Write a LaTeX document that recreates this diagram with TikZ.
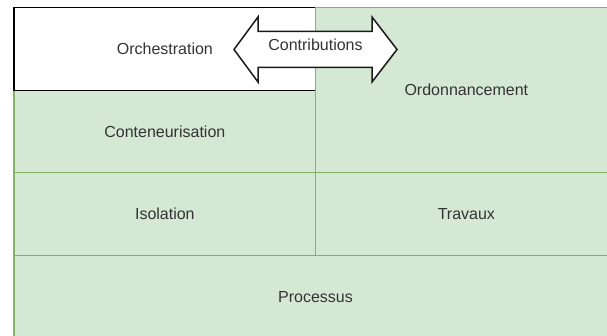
\documentclass[tikz,border=0pt]{standalone}
\usepackage{fontspec}
\setmainfont{Liberation Sans}
\begin{document}
\begin{tikzpicture}[x=1pt,y=-1pt,
  layer/.style={draw=layerline,fill=layerfill,line width=1.5pt,
    text=labeltext,font=\fontsize{16}{19}\selectfont},
  topbox/.style={draw=black,fill=white,line width=1.5pt,
    text=labeltext,font=\fontsize{16}{19}\selectfont},
  twoway/.style={draw=arrowline,fill=white,line width=1.5pt,line join=miter},
  caption/.style={text=labeltext,font=\fontsize{16}{19}\selectfont,inner sep=0pt}]
\definecolor{layerfill}{HTML}{D5E8D4}
\definecolor{layerline}{HTML}{82B366}
\definecolor{labeltext}{HTML}{333333}
\definecolor{arrowline}{HTML}{1A1A1A}
\useasboundingbox (0,0) rectangle (607,336);
\fill[white] (0,0) rectangle (607,336);
% stacked layers, bottom-up
\draw[layer] (14,255.3) rectangle (617,338) node[midway] (proc) {Processus};
\draw[layer] (14,172.7) rectangle (315.7,255.3) node[midway] (iso) {Isolation};
\draw[layer] (315.7,172.7) rectangle (617,255.3) node[midway] (trav) {Travaux};
\draw[layer] (14,90.3) rectangle (315.7,172.7) node[midway] (cont) {Conteneurisation};
\draw[topbox] (14,7.3) rectangle (315.7,90.3) node[midway] (orch) {Orchestration};
\draw[layer] (315.7,7.3) rectangle (617,172.7) node[midway] (ordo) {Ordonnancement};
% two-way arrow across the top row
\draw[twoway] (234,49.5) -- (258,17) -- (258,31.5) -- (372,31.5) -- (372,17)
  -- (397,49.5) -- (372,82) -- (372,67.5) -- (258,67.5) -- (258,82) -- cycle;
\node[caption] (contrib) at (315.5,45) {Contributions};
\end{tikzpicture}
\end{document}
